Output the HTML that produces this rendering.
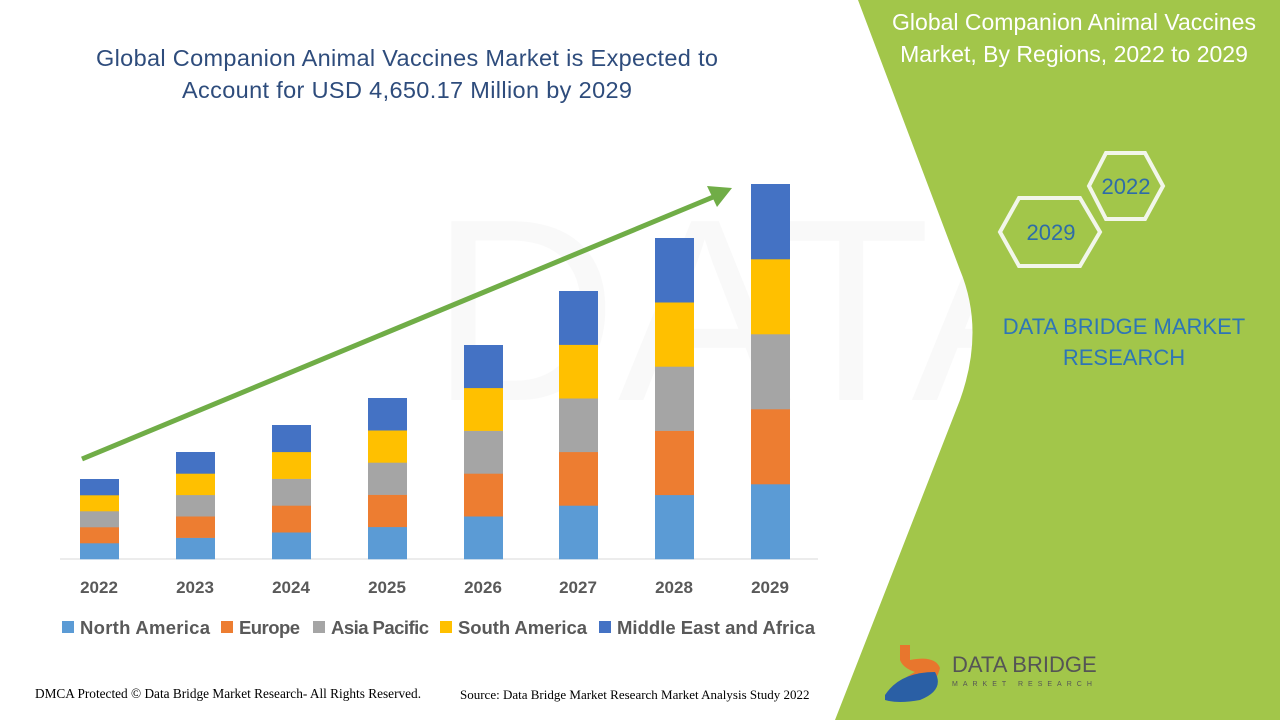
<!DOCTYPE html>
<html><head><meta charset="utf-8"><style>
body{margin:0;width:1280px;height:720px;overflow:hidden;background:#fff;font-family:"Liberation Sans",sans-serif;position:relative}
</style></head><body>
<svg width="1280" height="720" style="position:absolute;left:0;top:0">
<text x="430" y="400" font-size="260" fill="#000" opacity="0.02" font-family="Liberation Sans">DATA BRIDGE</text>
<path d="M858,0 L1280,0 L1280,720 L835,720 L960,400 Q985,330 960,270 Z" fill="#a2c64a"/>
<text x="407" y="66" text-anchor="middle" font-size="23.5" fill="#2e4c7c" textLength="622">Global Companion Animal Vaccines Market is Expected to</text>
<text x="407" y="98" text-anchor="middle" font-size="23.5" fill="#2e4c7c" textLength="450">Account for USD 4,650.17 Million by 2029</text>
<text x="1074" y="30" text-anchor="middle" font-size="23" fill="#fff">Global Companion Animal Vaccines</text>
<text x="1074" y="62" text-anchor="middle" font-size="23" fill="#fff">Market, By Regions, 2022 to 2029</text>
<polygon points="1089,186 1106,153 1145,153 1163,186 1145,219 1106,219" fill="none" stroke="#f2f6ea" stroke-width="4"/>
<polygon points="1000,232 1019,198 1080,198 1100,232 1080,266 1019,266" fill="none" stroke="#f2f6ea" stroke-width="4"/>
<text x="1126" y="194" text-anchor="middle" font-size="22" fill="#2e6ca8">2022</text>
<text x="1051" y="240" text-anchor="middle" font-size="22" fill="#2e6ca8">2029</text>
<text x="1124" y="334" text-anchor="middle" font-size="22" fill="#2e75b6">DATA BRIDGE MARKET</text>
<text x="1124" y="365" text-anchor="middle" font-size="22" fill="#2e75b6">RESEARCH</text>
<path d="M900,645 L910,645 L910,660 Q935,655 940,668 Q935,690 905,698 L893,700 Q898,680 915,672 Q903,668 900,660Z" fill="#e8762d"/>
<path d="M885,695 Q900,672 935,672 Q945,690 920,700 Q898,704 885,700Z" fill="#2a5fa5"/>
<text x="952" y="672" font-size="22" fill="#555">DATA BRIDGE</text>
<text x="952" y="686" font-size="7" fill="#555" letter-spacing="5">MARKET RESEARCH</text>
<line x1="60" y1="559" x2="818" y2="559" stroke="#d9d9d9"/>
<g id="bars"></g>
<line x1="82" y1="459" x2="718" y2="195" stroke="#70ad47" stroke-width="5"/>
<polygon points="732,188 707,186 717,207" fill="#70ad47"/>
<g font-size="17" font-weight="bold" fill="#595959" text-anchor="middle">
<text x="99" y="593">2022</text><text x="195" y="593">2023</text><text x="291" y="593">2024</text><text x="387" y="593">2025</text><text x="483" y="593">2026</text><text x="578" y="593">2027</text><text x="674" y="593">2028</text><text x="770" y="593">2029</text>
</g>
<g font-size="18.5" font-weight="bold" fill="#595959">
<rect x="62" y="621" width="12" height="12" fill="#5b9bd5"/><text x="80" y="634" textLength="130">North America</text>
<rect x="221" y="621" width="12" height="12" fill="#ed7d31"/><text x="239" y="634" textLength="61">Europe</text>
<rect x="313" y="621" width="12" height="12" fill="#a5a5a5"/><text x="331" y="634" textLength="98">Asia Pacific</text>
<rect x="440" y="621" width="12" height="12" fill="#ffc000"/><text x="458" y="634" textLength="129">South America</text>
<rect x="599" y="621" width="12" height="12" fill="#4472c4"/><text x="617" y="634" textLength="198">Middle East and Africa</text>
</g>
<text x="35" y="698" font-size="13.3" font-family="Liberation Serif" fill="#000">DMCA Protected © Data Bridge Market Research- All Rights Reserved.</text>
<text x="460" y="699" font-size="13" font-family="Liberation Serif" fill="#000">Source: Data Bridge Market Research Market Analysis Study 2022</text>
</svg>
<script>
var xs=[80,176,272,368,464,559,655,751],tops=[479,452,425,398,345,291,238,184],c=["#5b9bd5","#ed7d31","#a5a5a5","#ffc000","#4472c4"],s="";
for(var i=0;i<8;i++){var h=(559-tops[i])/5;for(var j=0;j<5;j++){s+='<rect x="'+xs[i]+'" y="'+(559-h*(j+1))+'" width="39" height="'+(h+0.3)+'" fill="'+c[j]+'"/>';}}
document.getElementById("bars").innerHTML=s;
</script>
</body></html>
